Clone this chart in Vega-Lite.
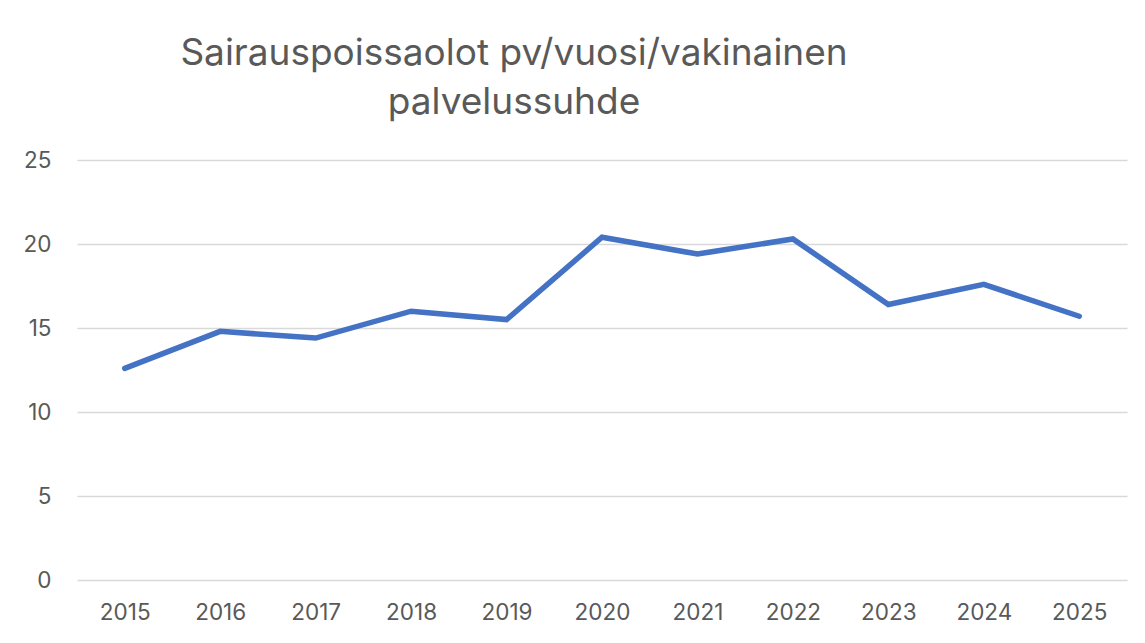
{
  "$schema": "https://vega.github.io/schema/vega-lite/v6.json",
  "autosize": "none",
  "width": 1050,
  "height": 420,
  "padding": {"left": 77, "top": 160, "right": 18, "bottom": 63},
  "background": "white",
  "title": {
    "text": ["Sairauspoissaolot pv/vuosi/vakinainen", "palvelussuhde"],
    "font": "Inter",
    "fontSize": 37,
    "fontWeight": "normal",
    "color": "#595959",
    "anchor": "middle",
    "dx": -88,
    "lineHeight": 49,
    "offset": 27
  },
  "data": {
    "values": [
      {"vuosi": "2015", "arvo": 12.6},
      {"vuosi": "2016", "arvo": 14.8},
      {"vuosi": "2017", "arvo": 14.4},
      {"vuosi": "2018", "arvo": 16.0},
      {"vuosi": "2019", "arvo": 15.5},
      {"vuosi": "2020", "arvo": 20.4},
      {"vuosi": "2021", "arvo": 19.4},
      {"vuosi": "2022", "arvo": 20.3},
      {"vuosi": "2023", "arvo": 16.4},
      {"vuosi": "2024", "arvo": 17.6},
      {"vuosi": "2025", "arvo": 15.7}
    ]
  },
  "mark": {"type": "line", "color": "#4472C4", "strokeWidth": 5.5, "strokeCap": "round", "strokeJoin": "miter"},
  "encoding": {
    "x": {
      "field": "vuosi",
      "type": "ordinal",
      "scale": {"type": "point", "padding": 0.5},
      "axis": {"title": null, "labelAngle": 0, "domain": false, "ticks": false, "grid": false, "labelPadding": 21}
    },
    "y": {
      "field": "arvo",
      "type": "quantitative",
      "scale": {"domain": [0, 25], "nice": false},
      "axis": {"title": null, "values": [0, 5, 10, 15, 20, 25], "domain": false, "ticks": false, "grid": true, "labelPadding": 26}
    }
  },
  "config": {
    "view": {"stroke": null},
    "axis": {
      "labelFont": "Inter",
      "labelFontSize": 22.5,
      "labelColor": "#595959",
      "gridColor": "#d9d9d9",
      "gridWidth": 1.5
    }
  }
}
